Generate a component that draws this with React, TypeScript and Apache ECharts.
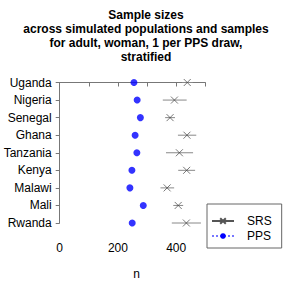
import React, { useEffect, useRef } from "react";
import * as echarts from "echarts";

const countries = ["Uganda", "Nigeria", "Senegal", "Ghana", "Tanzania", "Kenya", "Malawi", "Mali", "Rwanda"];
const ppsMean = [255, 266, 277, 259, 265, 248, 241, 287, 249];
const srsMean = [438, 394, 379, 437, 411, 436, 369, 407, 435];
const srsLow = [420, 354, 362, 406, 365, 407, 346, 390, 385];
const srsHigh = [457, 436, 396, 469, 458, 465, 393, 424, 485];
const xTicks = [0, 100, 200, 300, 400, 500];

const titleText = "Sample sizes\nacross simulated populations and samples\nfor adult, woman, 1 per PPS draw,\nstratified";

const CROSS = "path://M0,0L10,10M10,0L0,10";
const FONT = "Liberation Sans, Arial, Helvetica, sans-serif";

export default function App() {
  const ref = useRef<HTMLDivElement>(null);
  useEffect(() => {
    if (!ref.current) return;
    document.body.style.margin = "0";
    const chart = echarts.init(ref.current, null, { renderer: "svg" });
    const errData = countries.map((_, i) => [srsLow[i], srsHigh[i], i]);
    chart.setOption({
      animation: false,
      textStyle: { fontFamily: FONT },
      title: {
        text: titleText,
        left: 141,
        top: 3,
        textAlign: "center",
        textStyle: { fontSize: 12, fontWeight: "bold", lineHeight: 14, color: "#000", fontFamily: FONT },
      },
      grid: { left: 59.7, right: 79.7, top: 82.5, bottom: 49.5, containLabel: false },
      xAxis: {
        type: "value",
        min: xTicks[0],
        max: xTicks[xTicks.length - 1],
        interval: 100,
        offset: 16,
        name: "n",
        nameLocation: "middle",
        nameGap: 29,
        nameTextStyle: { fontSize: 12, color: "#000", fontFamily: FONT, padding: [0, 0, 0, 8] },
        axisLine: { show: true, lineStyle: { color: "#777", width: 1 } },
        axisTick: { show: true, length: 4, lineStyle: { color: "#777" } },
        splitLine: { show: false },
        axisLabel: {
          fontSize: 12,
          color: "#000",
          margin: 3,
          fontFamily: FONT,
          formatter: (v: number) => (v % 200 === 0 ? String(v) : ""),
        },
      },
      yAxis: {
        type: "value",
        min: 0,
        max: countries.length - 1,
        interval: 1,
        inverse: true,
        axisLine: { show: true, lineStyle: { color: "#777", width: 1 } },
        axisTick: { show: true, length: 4, lineStyle: { color: "#777" } },
        splitLine: { show: false },
        axisLabel: {
          fontSize: 12,
          color: "#000",
          margin: 8,
          fontFamily: FONT,
          formatter: (v: number) => countries[Math.round(v)] ?? "",
        },
      },
      legend: {
        orient: "vertical",
        left: 207,
        top: 204,
        width: 74,
        padding: [10, 10, 5, 4],
        itemWidth: 22,
        itemHeight: 7,
        itemGap: 1,
        borderColor: "#666",
        borderWidth: 1,
        textStyle: { fontSize: 12, lineHeight: 14, color: "#000", fontFamily: FONT, padding: [0, 0, 0, 8] },
        data: ["SRS", "PPS"],
        selectedMode: false,
      },
      series: [
        {
          name: "SRS",
          type: "line",
          data: [],
          symbol: CROSS,
          symbolSize: 6,
          itemStyle: { color: "transparent", borderColor: "#555", borderWidth: 0.8 },
          lineStyle: { color: "#555", width: 0.8 },
        },
        {
          name: "PPS",
          type: "line",
          data: [],
          symbol: "circle",
          symbolSize: 7,
          itemStyle: { color: "#0000ff" },
          lineStyle: { color: "#7777ff", width: 1, type: "dotted" },
        },
        {
          name: "srsErr",
          type: "custom",
          clip: false,
          data: errData,
          renderItem: (params: any, api: any) => {
            const a = api.coord([api.value(0), api.value(2)]);
            const b = api.coord([api.value(1), api.value(2)]);
            return {
              type: "line",
              shape: { x1: a[0], y1: a[1], x2: b[0], y2: b[1] },
              style: { stroke: "#888", lineWidth: 1 },
            };
          },
          z: 1,
        },
        {
          name: "srsPts",
          type: "scatter",
          clip: false,
          data: srsMean.map((v, i) => [v, i]),
          symbol: CROSS,
          symbolSize: 7,
          itemStyle: { color: "transparent", borderColor: "#444", borderWidth: 0.9 },
          z: 2,
        },
        {
          name: "ppsPts",
          type: "scatter",
          clip: false,
          data: ppsMean.map((v, i) => [v, i]),
          symbol: "circle",
          symbolSize: 7,
          itemStyle: { color: "#0000ff" },
          z: 3,
        },
      ],
    });
    return () => chart.dispose();
  }, []);
  return <div ref={ref} style={{ width: 285, height: 285 }} />;
}
